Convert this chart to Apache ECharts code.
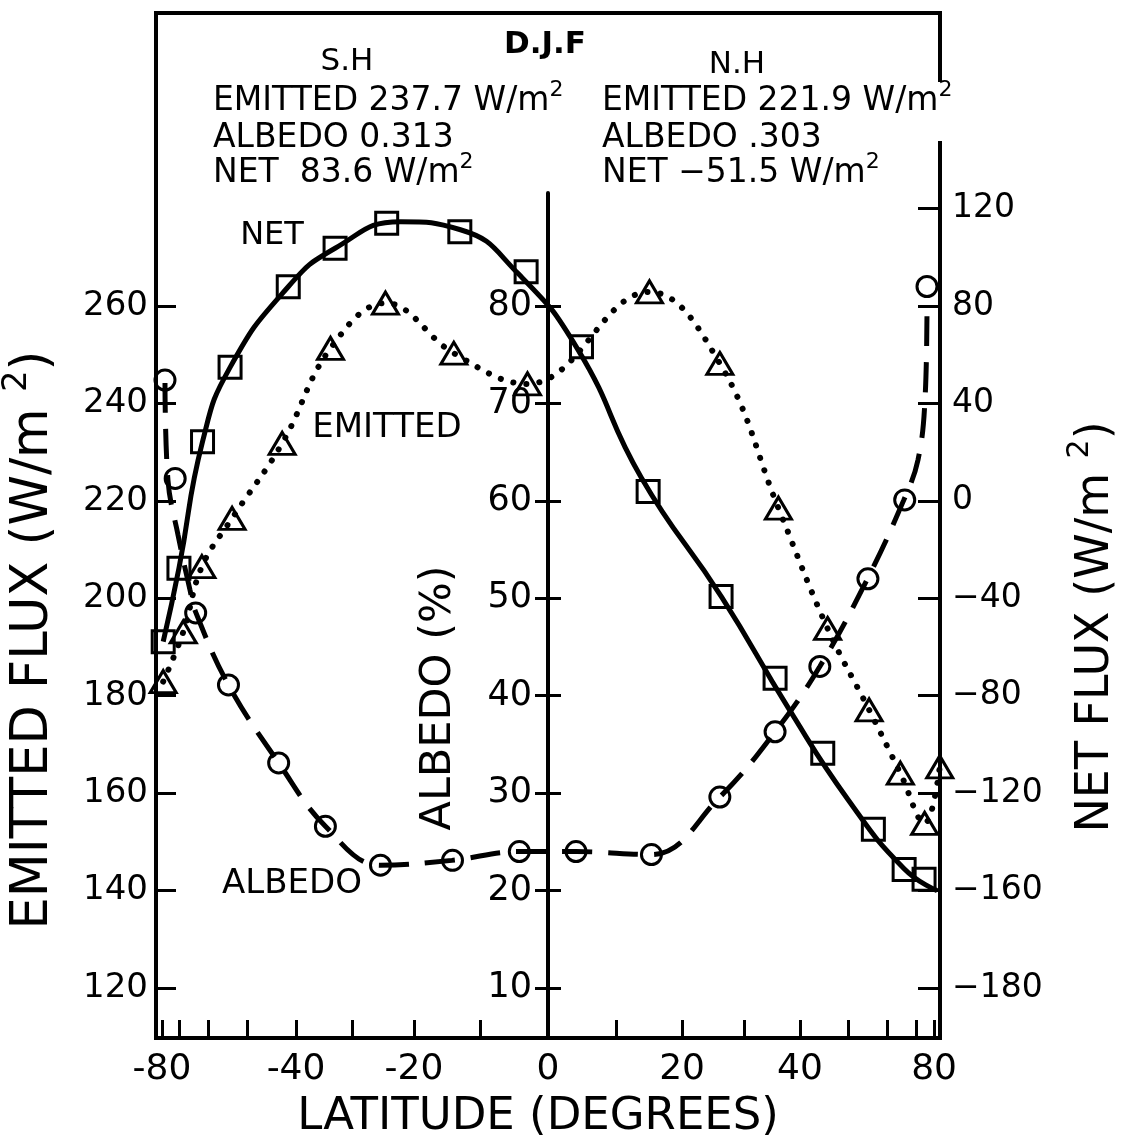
<!DOCTYPE html>
<html lang="en">
<head>
<meta charset="UTF-8">
<title>D.J.F emitted flux, albedo, net flux</title>
<style>html,body{margin:0;background:#fff}</style>
</head>
<body>
<div id="main" style="width:1122px;height:1141px"></div>
<script src="https://cdn.jsdelivr.net/npm/echarts@6/dist/echarts.min.js"></script>
<script>
// values (latitude in degrees)
var netLat = [-79, -70.3, -61.8, -54.2, -41.5, -32.9, -24.3, -13, -3.2, 4.9, 14.8, 26.2, 35.4, 44.5, 56.1, 65.3, 73.6]
var netVal = [-57.8, -27.7, 24.3, 54.8, 87.9, 103.7, 114, 110.5, 94.1, 63.3, 3.8, -39.3, -72.8, -103.6, -134.8, -151.3, -155.4]
// the smooth NET curve drawn through them
var netCurveLat = [-79, -70.3, -61.8, -54.2, -41.5, -32.9, -22.1, -12.9, -4.4, 4.4, 13.8, 26.3, 37.8, 50, 65.3, 83]
var netCurveVal = [-57.8, -27.7, 24.3, 54.8, 87.9, 103.7, 114.6, 111.3, 93.4, 62, 9.4, -39.5, -85, -122.8, -151, -160]

var emLat = [-79, -68.5, -62, -53.7, -42.7, -33.7, -24.5, -13.9, -3, 15, 26, 36, 45.5, 55, 64, 73.9, 88]
var emVal = [182.9, 193.1, 206.5, 216.4, 231.8, 251.3, 260.6, 250.3, 244, 262.9, 248.2, 218.5, 193.8, 177.1, 164.1, 153.8, 165.4]

var alLat = [-77.7, -72, -64, -54.6, -43.4, -34.6, -25.3, -14.1, -4.2, 4.1, 15.3, 26, 35.4, 43.9, 54.7, 65.5, 75.2]
var alVal = [72.4, 62.3, 48.5, 41.1, 33.1, 26.6, 22.6, 23.1, 24, 24, 23.7, 29.6, 36.3, 43, 52, 60.1, 82]
var alCurveLat = [-77.7, -75.8, -70.7, -66, -63.9, -54.6, -43.4, -34.6, -25.3, -14.2, -4.3, 4.1, 15.3, 26, 35.4, 43.9, 54.7, 65.2, 70.7, 74.1, 75.2]
var alCurveVal = [72.1, 62.1, 56.5, 50.9, 48.5, 41.1, 33.1, 26.6, 22.6, 23.1, 24, 24, 23.7, 29.6, 36.3, 43, 52.1, 60.1, 64.2, 70.4, 79.9]

// tick labels
var latTicks = [-80, -70, -60, -50, -40, -30, -20, -10, 0, 10, 20, 30, 40, 50, 60, 70, 80]
var latLabels = [-80, -40, -20, 0, 20, 40, 80]
var emTicks = [120, 140, 160, 180, 200, 220, 240, 260]
var alTicks = [10, 20, 30, 40, 50, 60, 70, 80]
var netTicks = [-200, -160, -120, -80, -40, 0, 40, 80, 120]
var netTickText = ['\u2212180', '\u2212160', '\u2212120', '\u221280', '\u221240', '0', '40', '80', '120']

var F = 'DejaVu Sans'

// x axis is linear in sin(latitude)
function sx(lat) { return Math.sin(lat * Math.PI / 180) }
function pairs(lat, val) { return lat.map(function (l, i) { return [sx(l), val[i]] }) }

// the three y scales share gridlines 97.43 px apart
var gTop = 13, gBot = 1038, refY = 988, step = 97.43
function range(refVal, unit, top) {
	var k = unit / step
	return { min: refVal - (gBot - refY) * k, max: refVal + (refY - top) * k }
}
var eR = range(120, 20, gTop)
var nR = range(-200, 40, gTop)
var aR = range(10, 10, 193)

var blk = '#000'
function tick(len, inside, vals) {
	return { show: true, inside: inside, length: len, customValues: vals, lineStyle: { color: blk, width: 3 } }
}
function lab(size, margin, vals, fmt) {
	var o = { customValues: vals, fontSize: size, fontFamily: F, color: blk, margin: margin }
	if (fmt) o.formatter = fmt
	return o
}
var noLine = { show: false, onZero: false }
var hollow = { color: 'rgba(0,0,0,0)', borderColor: blk, borderWidth: 3, opacity: 1 }

function txt(x, y, text, size, opt) {
	opt = opt || {}
	var sup = Math.round(size * 0.66)
	return {
		type: 'text', x: x, y: y, z: 101, rotation: opt.rot || 0,
		style: {
			text: text, fill: blk, align: opt.align || 'center', verticalAlign: 'middle',
			fontFamily: F, fontSize: size, fontWeight: opt.bold ? 'bold' : 'normal',
			rich: {
				a: { fontFamily: F, fontSize: size, lineHeight: Math.round(size * 1.34), fill: blk },
				s: { fontFamily: F, fontSize: sup, lineHeight: sup, verticalAlign: 'top', fill: blk }
			}
		}
	}
}

var myChart = echarts.init(document.getElementById('main'))
var option = {
	backgroundColor: '#fff',
	animation: false,
	grid: [
		{ left: 156, right: 182, top: gTop, bottom: 1141 - gBot, show: true, borderColor: blk, borderWidth: 4 },
		{ left: 156, right: 182, top: 193, bottom: 1141 - gBot }
	],
	xAxis: [
		{
			gridIndex: 0, type: 'value', min: -1, max: 1,
			axisLine: noLine, splitLine: { show: false },
			axisTick: tick(18, true, latTicks.map(sx)),
			axisLabel: lab(36, 14, latLabels.map(sx), function (v) {
				return String(Math.round(Math.asin(v) * 180 / Math.PI))
			})
		},
		{ gridIndex: 1, type: 'value', min: -1, max: 1, show: false, axisLine: noLine }
	],
	yAxis: [
		{
			gridIndex: 0, type: 'value', position: 'left', min: eR.min, max: eR.max,
			axisLine: noLine, splitLine: { show: false },
			axisTick: tick(20, true, emTicks), axisLabel: lab(34, 8, emTicks)
		},
		{
			gridIndex: 0, type: 'value', position: 'right', min: nR.min, max: nR.max,
			axisLine: noLine, splitLine: { show: false },
			axisTick: tick(22, true, netTicks),
			axisLabel: lab(33, 12, netTicks, function (v) {
				for (var i = 0; i < netTicks.length; i++) if (Math.abs(netTicks[i] - v) < 1e-6) return netTickText[i]
				return ''
			})
		},
		{
			gridIndex: 1, type: 'value', position: 'left', offset: -392, min: aR.min, max: aR.max,
			axisLine: { show: true, onZero: false, lineStyle: { color: blk, width: 4 } }, splitLine: { show: false },
			axisTick: tick(13, false, alTicks), axisLabel: lab(35, 16, alTicks)
		},
		{
			gridIndex: 1, type: 'value', position: 'left', offset: -392, min: aR.min, max: aR.max,
			axisLine: noLine, splitLine: { show: false },
			axisTick: tick(13, true, alTicks), axisLabel: { show: false }
		}
	],
	series: [
		{
			name: 'NET', type: 'line', xAxisIndex: 0, yAxisIndex: 1, data: pairs(netCurveLat, netCurveVal),
			smooth: 0.5, showSymbol: false, symbol: 'none',
			lineStyle: { color: blk, width: 5 }
		},
		{
			name: 'NET pts', type: 'scatter', xAxisIndex: 0, yAxisIndex: 1, data: pairs(netLat, netVal),
			symbol: 'rect', symbolSize: 22, z: 5, itemStyle: hollow
		},
		{
			name: 'EMITTED', type: 'line', xAxisIndex: 0, yAxisIndex: 0, data: pairs(emLat, emVal),
			smooth: 0.4, showSymbol: false, symbol: 'none',
			lineStyle: { color: blk, width: 6, type: [0.1, 13], cap: 'round' }
		},
		{
			name: 'EMITTED pts', type: 'scatter', xAxisIndex: 0, yAxisIndex: 0, data: pairs(emLat, emVal),
			symbol: 'triangle', symbolSize: [26, 22], z: 5, itemStyle: hollow
		},
		{
			name: 'ALBEDO', type: 'line', xAxisIndex: 1, yAxisIndex: 2, data: pairs(alCurveLat, alCurveVal),
			smooth: 0.4, showSymbol: false, symbol: 'none',
			lineStyle: { color: blk, width: 5, type: [30, 16] }
		},
		{
			name: 'ALBEDO pts', type: 'scatter', xAxisIndex: 1, yAxisIndex: 2, data: pairs(alLat, alVal),
			symbol: 'circle', symbolSize: 20, z: 5, itemStyle: hollow
		}
	],
	graphic: [
		// gap in the right frame line behind the N.H text
		{ type: 'rect', z: 100, shape: { x: 928, y: 82, width: 24, height: 59 }, style: { fill: '#fff' } },
		txt(347, 62, 'S.H', 31),
		txt(545, 45, 'D.J.F', 31, { bold: true }),
		txt(737, 65, 'N.H', 31),
		txt(213, 101, '{a|EMITTED 237.7 W/m}{s|2}', 33, { align: 'left' }),
		txt(213, 138, '{a|ALBEDO 0.313}', 33, { align: 'left' }),
		txt(213, 173, '{a|NET  83.6 W/m}{s|2}', 33, { align: 'left' }),
		txt(602, 101, '{a|EMITTED 221.9 W/m}{s|2}', 33, { align: 'left' }),
		txt(602, 138, '{a|ALBEDO .303}', 33, { align: 'left' }),
		txt(602, 173, '{a|NET \u221251.5 W/m}{s|2}', 33, { align: 'left' }),
		txt(272, 236, 'NET', 32),
		txt(387, 428, 'EMITTED', 34),
		txt(292, 884, 'ALBEDO', 34),
		txt(34, 640, '{a|EMITTED FLUX (W/m }{s|2}{a|)}', 51, { rot: Math.PI / 2 }),
		txt(1096, 627, '{a|NET FLUX (W/m }{s|2}{a|)}', 46, { rot: Math.PI / 2 }),
		txt(439, 698, '{a|ALBEDO (%)}', 43, { rot: Math.PI / 2 }),
		txt(538, 1117, '{a|LATITUDE (DEGREES)}', 45)
	]
}
myChart.setOption(option)
</script>
</body>
</html>
